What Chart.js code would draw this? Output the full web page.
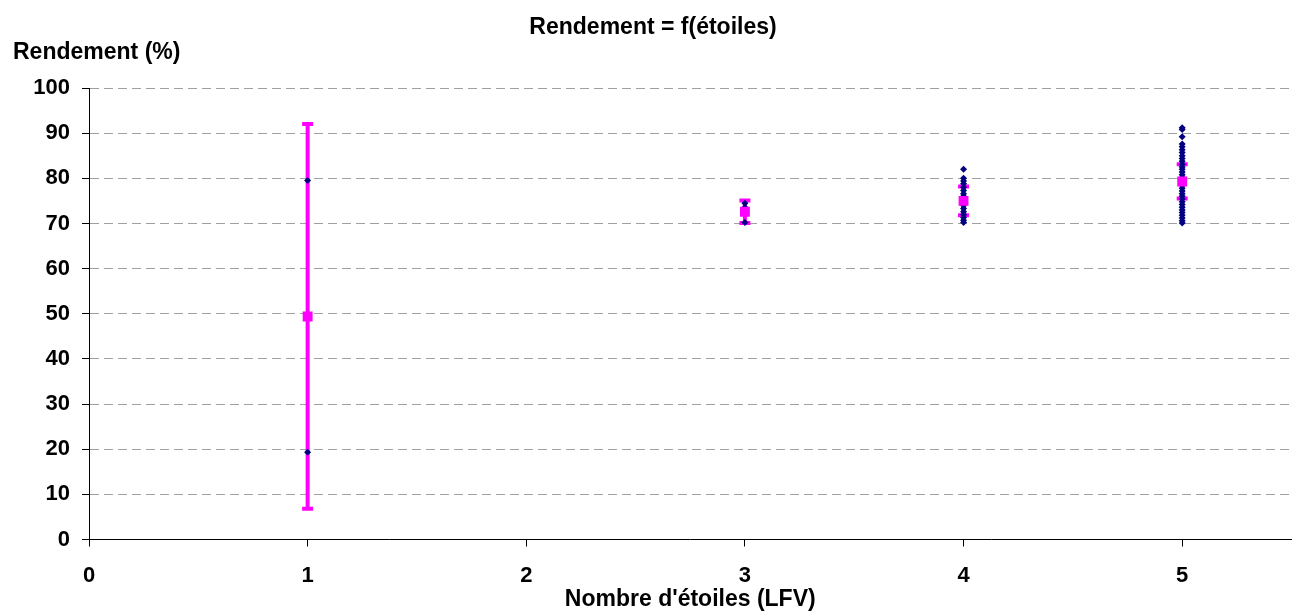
<!DOCTYPE html>
<html>
<head>
<meta charset="utf-8">
<script src="https://cdn.jsdelivr.net/npm/chart.js@4/dist/chart.umd.min.js"></script>
<style>
html, body {
	margin: 0;
	padding: 0;
	background: #fff;
}

#box {
	width: 1301px;
	height: 616px;
}
</style>
</head>
<body>
<div id="box"><canvas id="chart"></canvas></div>
<script>
// moyenne et écart par nombre d'étoiles
const stars = [1, 3, 4, 5];
const means = [49.4, 72.6, 75.0, 79.3];
const errors = [42.6, 2.5, 3.2, 3.8];

// rendements individuels
const yields1 = [79.5, 19.3];
const yields3 = [74.5, 73.6, 70.2];
const yields4 = [82.0, 80.0, 79.4, 78.8, 78.0, 77.3, 76.6, 76.0, 75.4, 74.8, 74.0,
	73.3, 72.6, 71.9, 71.3, 70.7, 70.2];
const yields5 = [91.2, 90.8, 89.2, 87.6, 87.0, 86.3, 85.7, 85.0, 84.4, 83.8, 83.1,
	82.5, 82.0, 81.4, 80.8, 80.2, 79.6, 79.0, 78.4, 77.8, 77.2, 76.6, 76.0, 75.4,
	74.8, 74.2, 73.6, 73.0, 72.4, 71.8, 71.2, 70.6, 70.1];

const xTicks = [0, 1, 2, 3, 4, 5];
const yTicks = [0, 10, 20, 30, 40, 50, 60, 70, 80, 90, 100];

const MAGENTA = "#ff00ff";
const NAVY = "#000080";

Chart.defaults.font.family = "'Liberation Sans', Arial, sans-serif";
Chart.defaults.font.size = 22;
Chart.defaults.font.weight = "bold";
Chart.defaults.color = "#000";

const points = [[1, yields1], [3, yields3], [4, yields4], [5, yields5]]
	.flatMap(([x, list]) => list.map(y => ({x, y})));

const bars = stars.map((x, i) => ({
	data: [{x, y: means[i] + errors[i]}, {x, y: means[i] - errors[i]}],
	showLine: true,
	borderColor: MAGENTA,
	borderWidth: 4,
	pointStyle: "line",
	pointRadius: 5.5,
	pointBorderWidth: 4,
	pointBorderColor: MAGENTA
}));

new Chart(document.getElementById("chart"), {
	type: "scatter",
	data: {
		datasets: [
			{
				data: stars.map((x, i) => ({x, y: means[i]})),
				pointStyle: "rect",
				pointRadius: 7,
				pointBorderWidth: 0,
				backgroundColor: MAGENTA
			},
			{
				data: points,
				pointStyle: "rectRot",
				pointRadius: 3.5,
				pointBorderWidth: 0,
				backgroundColor: NAVY
			},
			...bars
		]
	},
	options: {
		responsive: true,
		maintainAspectRatio: false,
		animation: false,
		layout: {padding: {left: 13, right: 8, top: 0, bottom: 0}},
		plugins: {
			legend: {display: false},
			tooltip: {enabled: false},
			title: {
				display: true,
				text: "Rendement = f(étoiles)",
				font: {size: 23, lineHeight: 1},
				padding: {top: 16, bottom: 0}
			},
			subtitle: {
				display: true,
				text: "Rendement (%)",
				align: "start",
				font: {weight: "bold", size: 23},
				padding: {top: 0, bottom: 21.4}
			}
		},
		scales: {
			x: {
				type: "linear",
				min: 0,
				max: 5.5,
				afterBuildTicks: s => s.ticks = xTicks.map(value => ({value})),
				afterFit: s => s.height = 76.5,
				grid: {drawOnChartArea: false, color: "#000", tickLength: 7},
				border: {color: "#000"},
				ticks: {padding: 18, font: {lineHeight: 1}},
				title: {
					display: true,
					text: "Nombre d'étoiles (LFV)",
					font: {size: 23, lineHeight: 1.1},
					padding: {top: 1, bottom: 4}
				}
			},
			y: {
				min: 0,
				max: 100,
				afterBuildTicks: s => s.ticks = yTicks.map(value => ({value})),
				afterFit: s => s.width = 76,
				grid: {
					color: c => c.tick && c.tick.value === 0 ? "rgba(0,0,0,0)" : "#a0a0a0",
					tickColor: "#000",
					tickLength: 7
				},
				border: {color: "#000", dash: [9, 5]},
				ticks: {padding: 12}
			}
		}
	}
});
</script>
</body>
</html>
